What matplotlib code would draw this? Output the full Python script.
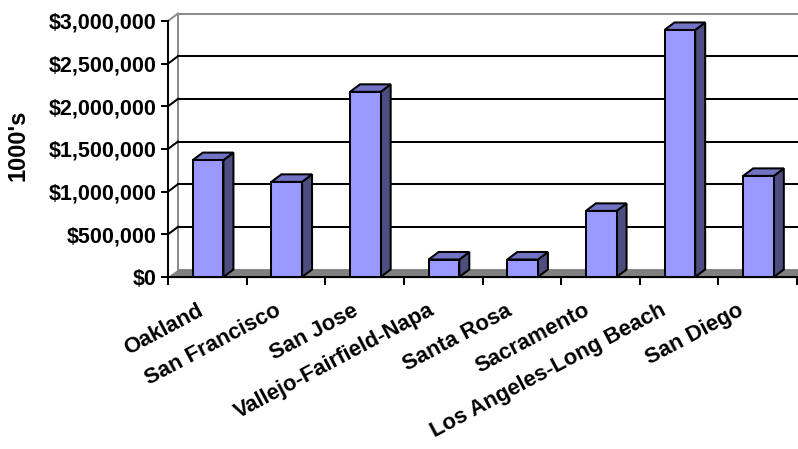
import matplotlib
matplotlib.use("Agg")
import matplotlib.pyplot as plt
from matplotlib.patches import Polygon
from matplotlib.transforms import ScaledTranslation
import matplotlib.ticker as mticker

plt.rcParams['font.family'] = ['Liberation Sans', 'DejaVu Sans']
plt.rcParams['font.weight'] = 'bold'

categories = ["Oakland", "San Francisco", "San Jose", "Vallejo-Fairfield-Napa",
              "Santa Rosa", "Sacramento", "Los Angeles-Long Beach", "San Diego"]
values = [1370000, 1115000, 2170000, 205000, 205000, 775000, 2895000, 1185000]
y_ticks = [0, 500000, 1000000, 1500000, 2000000, 2500000, 3000000]
y_label = "1000's"

W, H = 798, 449
fig = plt.figure(figsize=(W / 100, H / 100), dpi=100)
left_px, right_px, bot_px, top_px = 168, 797, 277, 21
ax = fig.add_axes([left_px / W, (H - bot_px) / H, (right_px - left_px) / W, (bot_px - top_px) / H])
n = len(categories)
ymax = 3000000
ax.set_xlim(0, n)
ax.set_ylim(0, ymax)

# depth offsets (pixels -> data)
px_x = (right_px - left_px) / n
px_y = (bot_px - top_px) / ymax
ddx = 10 / px_x
ddy = 7.5 / px_y

front_c = "#9999FF"
top_c = "#7373C6"
side_c = "#4D4D80"
wall_edge = "#8C8C8C"
lw = 1.45

# back wall
ax.add_patch(Polygon([(ddx, ddy), (n + 1, ddy), (n + 1, ymax + ddy), (ddx, ymax + ddy)],
                     closed=True, facecolor="white", edgecolor=wall_edge, lw=lw,
                     clip_on=False, zorder=0))
ax.plot([0, ddx], [ymax, ymax + ddy], color=wall_edge, lw=lw, clip_on=False, zorder=1)
for t in y_ticks[1:-1]:
    ax.plot([ddx, n + 1], [t + ddy, t + ddy], color="black", lw=lw, clip_on=False, zorder=1)
    ax.plot([0, ddx], [t, t + ddy], color="black", lw=lw, clip_on=False, zorder=1)
# floor
ax.add_patch(Polygon([(0, 0), (n + 1, 0), (n + 1, ddy), (ddx, ddy)], closed=True,
                     facecolor="#808080", edgecolor="#808080", lw=1, clip_on=False, zorder=2))

# bars
bw = 0.39
xs = [i + 0.5 + 0.01 for i in range(n)]
ax.bar(xs, values, width=bw, color=front_c, edgecolor="black", linewidth=lw, zorder=5)
for x, v in zip(xs, values):
    x0, x1 = x - bw / 2, x + bw / 2
    ax.add_patch(Polygon([(x1, 0), (x1 + ddx, ddy), (x1 + ddx, v + ddy), (x1, v)], closed=True,
                         facecolor=side_c, edgecolor="black", lw=lw, zorder=4, clip_on=False))
    ax.add_patch(Polygon([(x0, v), (x1, v), (x1 + ddx, v + ddy), (x0 + ddx, v + ddy)], closed=True,
                         facecolor=top_c, edgecolor="black", lw=lw, zorder=4, clip_on=False))

for s in ["top", "right"]:
    ax.spines[s].set_visible(False)
for s in ["left", "bottom"]:
    ax.spines[s].set_color("black")
    ax.spines[s].set_linewidth(lw)
    ax.spines[s].set_zorder(6)

ax.set_yticks(y_ticks)
ax.yaxis.set_major_formatter(mticker.FuncFormatter(lambda v, p: "${:,.0f}".format(v)))
ax.tick_params(axis="y", direction="out", length=5, width=lw, pad=3, labelsize=15.5)
for lbl in ax.get_yticklabels():
    lbl.set_fontweight("bold")

ax.set_xticks(range(n + 1))
ax.set_xticklabels([])
ax.tick_params(axis="x", direction="out", length=6, width=lw)

for i, c in enumerate(categories):
    off = ScaledTranslation((-10 - 1.5 * i) / 100, -23 / 100, fig.dpi_scale_trans)
    ax.text(i + 0.5, 0, c, transform=ax.transData + off, rotation=28,
            rotation_mode="anchor", ha="right", va="top", fontsize=15.8,
            fontweight="bold", clip_on=False)

fig.text(18 / W, 1 - 145 / H, y_label, rotation=90, ha="center", va="center",
         fontsize=17, fontweight="bold")

fig.savefig("out.png", dpi=100)
